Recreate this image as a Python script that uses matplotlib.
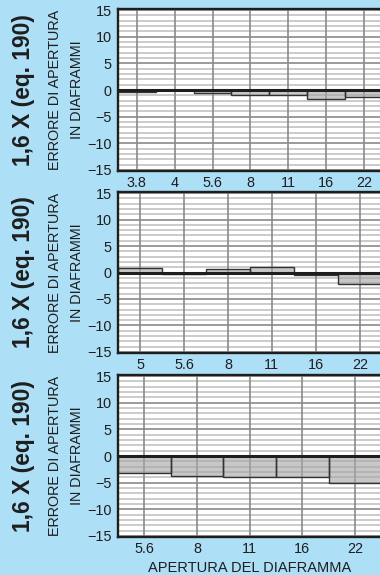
import matplotlib
matplotlib.use("Agg")
import matplotlib.pyplot as plt

plt.rcParams['font.family'] = ['Liberation Sans', 'DejaVu Sans']

# Data
panel1_labels = ['3.8', '4', '5.6', '8', '11', '16', '22']
panel1_values = [-0.45, 0.0, -0.5, -1.0, -1.0, -1.6, -1.3]
panel2_labels = ['5', '5.6', '8', '11', '16', '22']
panel2_values = [0.8, -0.2, 0.75, 1.0, -0.5, -2.2]
panel3_labels = ['5.6', '8', '11', '16', '22']
panel3_values = [-3.1, -3.8, -3.9, -3.9, -5.1]

y_major = [-15, -10, -5, 0, 5, 10, 15]
y_minor = list(range(-15, 16))

side_label = '1,6 X (eq. 190)'
ylabel_lines = ['ERRORE DI APERTURA', 'IN DIAFRAMMI']
xlabel = 'APERTURA DEL DIAFRAMMA'

W, H = 380, 575
BG = '#addff7'
fig = plt.figure(figsize=(W / 100, H / 100), dpi=100, facecolor=BG)

# pixel geometry: (top, bottom, x-span in categories)
panels = [
    (panel1_labels, panel1_values, 9, 171, 7.14),
    (panel2_labels, panel2_values, 192, 353, 6.14),
    (panel3_labels, panel3_values, 375, 537, 5.13),
]
left_px, right_px = 118, 388

for labels, values, top, bot, span in panels:
    ax = fig.add_axes([left_px / W, 1 - bot / H, (right_px - left_px) / W, (bot - top) / H])
    ax.set_facecolor('white')
    x = list(range(len(labels)))
    # grid, drawn by hand for control of stacking order
    for v in y_minor:
        if v not in y_major:
            ax.axhline(v, color='#c2c2c2', lw=1.2, zorder=0.5)
    for v in y_major:
        ax.axhline(v, color='#8a8a8a', lw=1.2, zorder=0.7)
    for xi in x:
        ax.axvline(xi, color='#8a8a8a', lw=1.2, zorder=0.8)
    ax.bar(x, values, width=1.0, color='#a6a6a6', alpha=0.62, edgecolor='none', zorder=2)
    ax.bar(x, values, width=1.0, fill=False, edgecolor='#333333', linewidth=1.0, zorder=3)
    ax.axhline(0, color='#1e1e1e', lw=2.2, zorder=4)
    ax.set_xlim(-0.5, -0.5 + span)
    ax.set_ylim(-15.2, 15.2)
    ax.set_xticks(x)
    ax.set_xticklabels(labels)
    ax.set_yticks(y_major)
    ax.tick_params(which='both', length=0, labelsize=10.4, colors='#1e1e1e')
    ax.tick_params(axis='y', pad=4.5)
    ax.tick_params(axis='x', pad=3.5)
    for s in ax.spines.values():
        s.set_linewidth(1.7)
        s.set_color('#1e1e1e')
        s.set_zorder(5)
    yc = 1 - (top + bot) / 2 / H
    fig.text(24 / W, yc, side_label, rotation=90, ha='center', va='center',
             fontsize=16.4, fontweight='bold', color='#1e1e1e')
    fig.text(55 / W, yc, ylabel_lines[0], rotation=90, ha='center', va='center',
             fontsize=10.4, color='#1e1e1e')
    fig.text(77 / W, yc, ylabel_lines[1], rotation=90, ha='center', va='center',
             fontsize=10.4, color='#1e1e1e')

fig.text(250 / W, 1 - 568 / H, xlabel, ha='center', va='center', fontsize=10.5, color='#1e1e1e')

fig.savefig('out.png', dpi=100, facecolor=BG)
